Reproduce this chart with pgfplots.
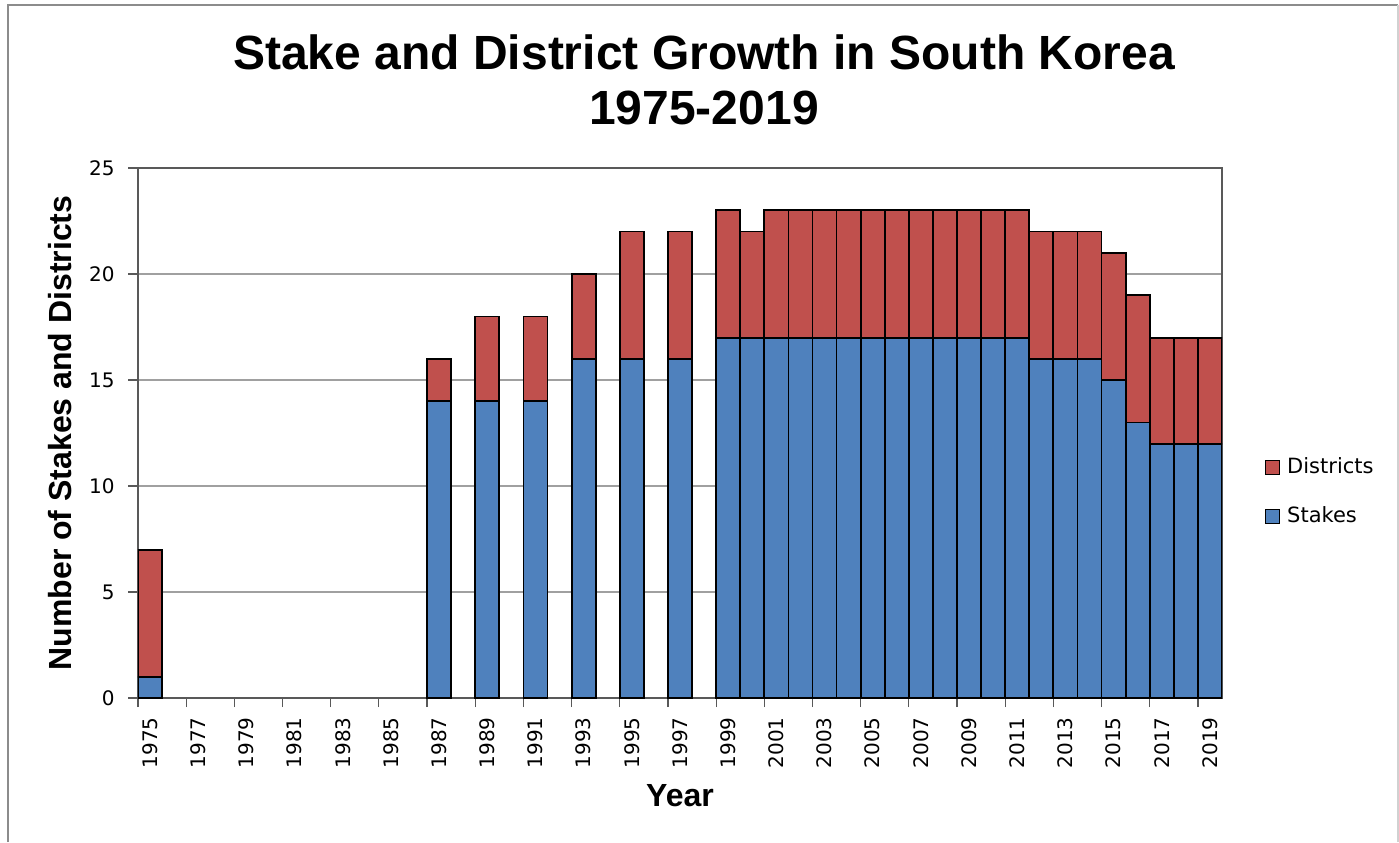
\documentclass[border=0pt]{standalone}
\usepackage{pgfplots}
\usepackage{pgfplotstable}
\pgfplotsset{compat=1.18}
\usepackage{fontspec}
\setmainfont{Liberation Sans}
\newfontfamily\tickfont{DejaVu Sans}
\definecolor{stakeblue}{HTML}{4F81BD}
\definecolor{distred}{HTML}{C0504D}
\definecolor{axisgray}{HTML}{595959}
\definecolor{gridgray}{HTML}{A0A0A0}

\pgfplotstableread{
year stakes districts
1975 1 6
1987 14 2
1989 14 4
1991 14 4
1993 16 4
1995 16 6
1997 16 6
1999 17 6
2000 17 5
2001 17 6
2002 17 6
2003 17 6
2004 17 6
2005 17 6
2006 17 6
2007 17 6
2008 17 6
2009 17 6
2010 17 6
2011 17 6
2012 16 6
2013 16 6
2014 16 6
2015 15 6
2016 13 6
2017 12 5
2018 12 5
2019 12 5
}\data

\begin{document}
\begin{tikzpicture}
\useasboundingbox (-69pt,-72pt) rectangle (630.5pt,349pt);
\fill[white] (-69pt,-72pt) rectangle (630.5pt,349pt);
\draw[black!45, line width=1pt] (-65pt,-72pt) -- (-65pt,346.5pt) -- (630pt,346.5pt);
\draw[black!18, line width=1pt] (630pt,346.5pt) -- (630pt,-72pt);
\begin{axis}[
  name=ax, at={(0,0)}, anchor=south west,
  scale only axis, width=542pt, height=265pt,
  ybar stacked, bar width=1,
  xmin=1974.5, xmax=2019.5, ymin=0, ymax=25,
  xtick={1975,1977,...,2019},
  minor xtick={1974.5,1976.5,...,2018.5},
  ytick={0,5,...,25},
  tick align=outside, xtick pos=bottom, ytick pos=left,
  major tick length=5pt, minor tick length=4.5pt,
  major x tick style={draw=none},
  every tick/.style={axisgray, line width=0.6pt},
  minor x tick style={axisgray, line width=0.6pt},
  axis line style={axisgray, line width=0.8pt},
  ymajorgrids, grid style={gridgray, line width=0.6pt},
  /pgf/number format/1000 sep={},
  /pgf/number format/assume math mode=true,
  ticklabel style={font=\tickfont\fontsize{10}{12}\selectfont, text=black},
  yticklabel style={anchor=east, inner sep=0pt, xshift=-6.5pt},
  xticklabel style={anchor=east, inner sep=0pt, yshift=-4.5pt, rotate=90},
  xlabel={Year}, ylabel={Number of Stakes and Districts},
  xlabel style={at={(axis description cs:0.5,-0.2038)}, anchor=base, inner sep=0pt, font=\bfseries\fontsize{16}{19}\selectfont},
  ylabel style={at={(axis description cs:-0.0609,0.5)}, anchor=base, rotate=0, inner sep=0pt, font=\bfseries\fontsize{16}{19}\selectfont},
  reverse legend,
  legend style={draw=none, fill=none, at={(axis description cs:1,0.389)}, anchor=west, xshift=21.5pt, inner sep=0pt, outer sep=0pt, row sep=12.5pt, font=\tickfont\fontsize{10.5}{12}\selectfont, nodes={inner sep=1pt, inner xsep=3.5pt, text height=8pt, text depth=2pt}},
  legend cell align=left,
  legend image code/.code={\draw[#1, line width=0.6pt] (0pt,-3.5pt) rectangle (7pt,3.5pt);},
]
\addplot[fill=stakeblue, draw=black, line width=0.9pt] table[x=year, y=stakes] {\data};
\addlegendentry{Stakes}
\addplot[fill=distred, draw=black, line width=0.9pt] table[x=year, y=districts] {\data};
\addlegendentry{Districts}
\end{axis}
\node[anchor=base, font=\bfseries\fontsize{24}{28}\selectfont] at (283pt,314pt) {Stake and District Growth in South Korea};
\node[anchor=base, font=\bfseries\fontsize{24}{28}\selectfont] at (283pt,286.5pt) {1975-2019};
\end{tikzpicture}
\end{document}
